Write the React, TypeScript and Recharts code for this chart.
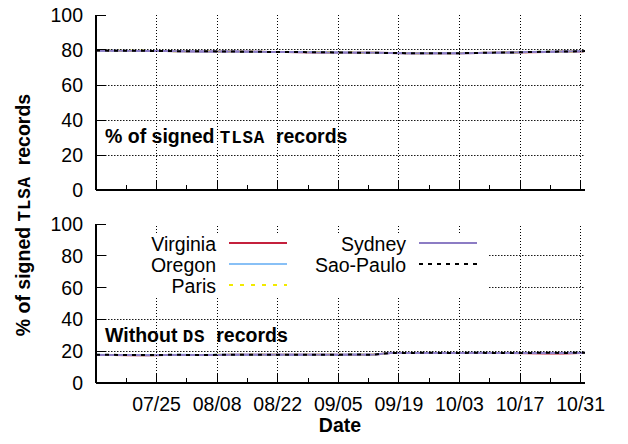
import React from 'react';
import { LineChart, Line, XAxis, YAxis, Legend } from 'recharts';

const DATES = ['07/11','07/15','07/19','07/23','07/27','07/31','08/04','08/08','08/12','08/16','08/20','08/24','08/28','09/01','09/05','09/09','09/13','09/17','09/21','09/25','09/29','10/03','10/07','10/11','10/15','10/19','10/23','10/27','10/31','11/01'];

const TLSA_VIRGINIA = [79.6,79.5,79.5,79.4,79.4,79.3,79.2,79.1,79.1,79.0,78.9,78.8,78.7,78.6,78.5,78.5,78.4,78.3,78.2,78.1,78.1,78.2,78.3,78.4,78.6,78.7,78.9,79.1,79.2,79.4];
const TLSA_OREGON = [79.6,79.6,79.5,79.5,79.4,79.3,79.2,79.2,79.1,79.0,78.9,78.8,78.8,78.7,78.6,78.5,78.4,78.3,78.2,78.1,78.1,78.2,78.3,78.4,78.6,78.8,79.0,79.1,79.3,79.4];
const TLSA_PARIS = [79.6,79.6,79.6,79.5,79.4,79.3,79.3,79.2,79.1,79.0,78.9,78.9,78.8,78.7,78.6,78.5,78.4,78.3,78.2,78.2,78.1,78.2,78.3,78.5,78.6,78.8,79.0,79.1,79.3,79.4];
const TLSA_SYDNEY = [79.6,79.6,79.5,79.5,79.4,79.3,79.2,79.2,79.1,79.0,78.9,78.8,78.7,78.6,78.6,78.5,78.4,78.3,78.2,78.1,78.1,78.2,78.3,78.4,78.6,78.8,78.9,79.1,79.3,79.4];
const TLSA_SAO_PAULO = [79.7,79.6,79.6,79.5,79.4,79.3,79.3,79.2,79.1,79.0,78.9,78.8,78.8,78.7,78.6,78.5,78.4,78.3,78.2,78.2,78.1,78.2,78.3,78.5,78.6,78.8,79.0,79.1,79.3,79.4];

const NODS_VIRGINIA = [17.6,17.6,17.5,17.5,17.6,17.6,17.6,17.6,17.7,17.7,17.7,17.7,17.7,17.8,17.8,17.8,17.8,18.8,18.9,18.9,18.9,18.9,18.9,18.8,18.8,18.7,18.6,18.6,18.8,18.9];
const NODS_OREGON = [17.7,17.6,17.6,17.6,17.6,17.7,17.6,17.7,17.7,17.7,17.7,17.7,17.8,17.8,17.8,17.9,17.8,18.9,18.9,18.9,18.9,18.9,19.0,18.9,18.9,18.9,18.9,18.9,19.0,19.0];
const NODS_PARIS = [17.6,17.6,17.6,17.5,17.6,17.6,17.6,17.7,17.7,17.7,17.7,17.7,17.8,17.8,17.8,17.8,17.8,18.8,18.9,18.9,18.9,18.9,18.9,18.9,18.8,18.9,18.9,18.9,18.9,19.0];
const NODS_SYDNEY = [17.6,17.6,17.6,17.5,17.6,17.6,17.6,17.6,17.7,17.7,17.7,17.7,17.7,17.8,17.8,17.8,17.8,18.8,18.9,18.9,18.9,18.9,18.9,18.9,18.8,18.9,18.9,18.9,18.9,19.0];
const NODS_SAO_PAULO = [17.7,17.7,17.6,17.6,17.7,17.7,17.6,17.7,17.7,17.8,17.7,17.7,17.8,17.8,17.8,17.9,17.8,18.9,18.9,19.0,18.9,18.9,19.0,18.9,18.9,18.9,19.0,18.9,19.0,19.0];

const REGIONS = ['Virginia', 'Oregon', 'Paris', 'Sydney', 'Sao-Paulo'];
const COLORS = ['#c4203c', '#88c0f6', '#f2ea00', '#8c7cc4', '#000000'];
const DASHES = [undefined, undefined, '4 7', undefined, '4 5'];

const X_TICK_LABELS = ['07/25','08/08','08/22','09/05','09/19','10/03','10/17','10/31'];
const X_MINOR_LABELS = ['07/18','08/01','08/15','08/29','09/12','09/26','10/10','10/24'];
const X_START = '07/11';
const X_END = '11/01';
const Y_TICKS = [0, 20, 40, 60, 80, 100];
const Y_GRID = [20, 40, 60, 80];

const MONTH_OFFSET: Record<string, number> = { '07': 0, '08': 31, '09': 62, '10': 92, '11': 123 };
function dayIndex(d: string): number {
  const [m, dd] = d.split('/');
  return MONTH_OFFSET[m] + Number(dd) - 11;
}

const TOP_SERIES = [TLSA_VIRGINIA, TLSA_OREGON, TLSA_PARIS, TLSA_SYDNEY, TLSA_SAO_PAULO];
const BOTTOM_SERIES = [NODS_VIRGINIA, NODS_OREGON, NODS_PARIS, NODS_SYDNEY, NODS_SAO_PAULO];

function buildRows(series: number[][]) {
  return DATES.map((d, i) => {
    const row: Record<string, number> = { day: dayIndex(d) };
    REGIONS.forEach((r, k) => { row[r] = series[k][i]; });
    return row;
  });
}

const topData = buildRows(TOP_SERIES);
const bottomData = buildRows(BOTTOM_SERIES);

const MAJOR_DAYS = X_TICK_LABELS.map(dayIndex);
const ALL_X_TICKS = [...MAJOR_DAYS, ...X_MINOR_LABELS.map(dayIndex)].sort((a, b) => a - b);
const X_DOMAIN = [dayIndex(X_START), dayIndex(X_END)];

const SANS = 'Liberation Sans, Arial, Helvetica, sans-serif';
const MONO = 'Liberation Mono, Courier New, monospace';
const FS = 19.5;

const CHART_W = 628;
const AXIS_W = 96;
const RIGHT_M = 43;
const PLOT_W = CHART_W - AXIS_W - RIGHT_M;
const DOT = '1 2';
const HDOT = '1.5 1.5';
const GRID_COLOR = '#000';

const snap = (v: number) => Math.floor(v) + 0.5;

function BottomTick(props: any) {
  const { x, y, payload, showLabel, plotH } = props;
  const idx = MAJOR_DAYS.indexOf(payload.value);
  const major = idx >= 0;
  const sx = snap(x);
  return (
    <g>
      {major ? (
        <line x1={sx} y1={y} x2={sx} y2={y - plotH} stroke={GRID_COLOR} strokeWidth={1} strokeDasharray={DOT} />
      ) : null}
      <line x1={sx} y1={y} x2={sx} y2={y - (major ? 10 : 5)} stroke="#000" strokeWidth={1} />
      {showLabel && major ? (
        <text x={x} y={y + 28} textAnchor="middle" fontSize={FS} fontFamily={SANS} fill="#000">
          {X_TICK_LABELS[idx]}
        </text>
      ) : null}
    </g>
  );
}

function TopTick(props: any) {
  const { x, y, payload } = props;
  const major = MAJOR_DAYS.indexOf(payload.value) >= 0;
  const sx = snap(x);
  return <line x1={sx} y1={y} x2={sx} y2={y + (major ? 10 : 5)} stroke="#000" strokeWidth={1} />;
}

function LeftTick(props: any) {
  const { x, y, payload } = props;
  const grid = Y_GRID.indexOf(Number(payload.value)) >= 0;
  const sy = snap(y);
  return (
    <g>
      {grid ? (
        <rect x={x} y={sy - 0.6} width={PLOT_W} height={1.2} fill="none" stroke="none" />
      ) : null}
      {grid ? (
        <line x1={x} y1={sy} x2={x + PLOT_W} y2={sy} stroke={GRID_COLOR} strokeWidth={1.1} strokeDasharray={HDOT} strokeOpacity={0.9} />
      ) : null}
      <line x1={x} y1={sy} x2={x + 10} y2={sy} stroke="#000" strokeWidth={1} />
      <text x={x - 13} y={y + 7} textAnchor="end" fontSize={FS} fontFamily={SANS} fill="#000">
        {payload.value}
      </text>
    </g>
  );
}

function RightTick(props: any) {
  const { x, y } = props;
  const sy = snap(y);
  return <line x1={x} y1={sy} x2={x - 10} y2={sy} stroke="#000" strokeWidth={1} />;
}

function LegendBox() {
  const rows = [8, 29, 50];
  const cols = [{ textX: 109, lx1: 122, lx2: 180 }, { textX: 299, lx1: 312, lx2: 370 }];
  return (
    <svg width={382} height={62} style={{ display: 'block', overflow: 'visible' }}>
      <rect x={0} y={0} width={382} height={62} fill="#fff" />
      {REGIONS.map((r, i) => {
        const c = cols[i < 3 ? 0 : 1];
        const y = rows[i < 3 ? i : i - 3];
        return (
          <g key={r}>
            <text x={c.textX} y={y + 7.5} textAnchor="end" fontSize={FS} fontFamily={SANS} fill="#000">{r}</text>
            <line x1={c.lx1} x2={c.lx2} y1={y} y2={y} stroke={COLORS[i]} strokeWidth={2} strokeDasharray={DASHES[i]} />
          </g>
        );
      })}
    </svg>
  );
}

function Panel(props: { data: any[]; height: number; margin: any; bottomHeight: number; showLabels: boolean; legend?: boolean }) {
  const { data, height, margin, bottomHeight, showLabels, legend } = props;
  const plotH = height - margin.top - margin.bottom - bottomHeight;
  return (
    <LineChart width={CHART_W} height={height} data={data} margin={margin}>
      <XAxis
        xAxisId="b"
        dataKey="day"
        type="number"
        domain={X_DOMAIN}
        ticks={ALL_X_TICKS}
        interval={0}
        height={bottomHeight}
        tickLine={false}
        tickSize={0}
        tickMargin={0}
        axisLine={{ stroke: '#000', strokeWidth: 2 }}
        tick={(p: any) => <BottomTick {...p} showLabel={showLabels} plotH={plotH} />}
        allowDataOverflow
      />
      <XAxis
        xAxisId="t"
        orientation="top"
        type="number"
        domain={X_DOMAIN}
        ticks={ALL_X_TICKS}
        interval={0}
        height={0}
        tickLine={false}
        tickSize={0}
        tickMargin={0}
        axisLine={{ stroke: '#000', strokeWidth: 2 }}
        tick={(p: any) => <TopTick {...p} />}
        allowDataOverflow
      />
      <YAxis
        yAxisId="l"
        type="number"
        domain={[0, 100]}
        ticks={Y_TICKS}
        interval={0}
        width={AXIS_W}
        tickLine={false}
        tickSize={0}
        tickMargin={0}
        axisLine={{ stroke: '#000', strokeWidth: 2 }}
        tick={(p: any) => <LeftTick {...p} />}
        allowDataOverflow
      />
      <YAxis
        yAxisId="r"
        orientation="right"
        type="number"
        domain={[0, 100]}
        ticks={Y_TICKS}
        interval={0}
        width={0}
        tickLine={false}
        tickSize={0}
        tickMargin={0}
        axisLine={{ stroke: '#000', strokeWidth: 2 }}
        tick={(p: any) => <RightTick {...p} />}
        allowDataOverflow
      />
      {REGIONS.map((r, i) => (
        <Line
          key={r}
          xAxisId="b"
          yAxisId="l"
          dataKey={r}
          stroke={COLORS[i]}
          strokeWidth={2}
          strokeDasharray={DASHES[i]}
          dot={false}
          isAnimationActive={false}
          type="linear"
        />
      ))}
      {legend ? (
        <Legend
          layout="horizontal"
          verticalAlign="middle"
          align="center"
          content={() => <LegendBox />}
          wrapperStyle={{ position: 'absolute', left: 107, top: 35, width: 382, height: 62, margin: 0, padding: 0, overflow: 'visible' }}
        />
      ) : null}
    </LineChart>
  );
}

function PanelTitle(props: { x: number; y: number; pre: string; mono: string; post: string; rotate?: boolean }) {
  const { x, y, pre, mono, post, rotate } = props;
  return (
    <text
      x={x}
      y={y}
      textAnchor={rotate ? 'middle' : 'start'}
      transform={rotate ? `rotate(-90 ${x} ${y})` : undefined}
      fontFamily={SANS}
      fontWeight="bold"
      fontSize={FS}
      fill="#000"
      style={{ whiteSpace: 'pre' }}
    >
      {pre}
      <tspan fontFamily={MONO} fontWeight="bold" fontSize={17.5} letterSpacing={0.8}>{mono}</tspan>
      {post}
    </text>
  );
}

export default function App() {
  return (
    <div style={{ position: 'absolute', left: 0, top: 0, width: 628, height: 444, background: '#fff', overflow: 'hidden' }}>
      <div style={{ position: 'absolute', left: 0, top: 0 }}>
        <Panel data={topData} height={200} margin={{ top: 15, right: RIGHT_M, bottom: 0, left: 0 }} bottomHeight={10} showLabels={false} />
      </div>
      <div style={{ position: 'absolute', left: 0, top: 200 }}>
        <Panel data={bottomData} height={244} margin={{ top: 24, right: RIGHT_M, bottom: 31, left: 0 }} bottomHeight={30} showLabels legend />
      </div>
      <svg width={628} height={444} style={{ position: 'absolute', left: 0, top: 0, pointerEvents: 'none' }}>
        <PanelTitle x={105} y={143} pre="% of signed " mono="TLSA" post="  records" />
        <PanelTitle x={105} y={342} pre="Without " mono="DS" post="  records" />
        <PanelTitle x={30} y={215} pre="% of signed " mono="TLSA" post="  records" rotate />
        <text x={340} y={432} textAnchor="middle" fontFamily={SANS} fontWeight="bold" fontSize={FS} fill="#000">Date</text>
      </svg>
    </div>
  );
}
